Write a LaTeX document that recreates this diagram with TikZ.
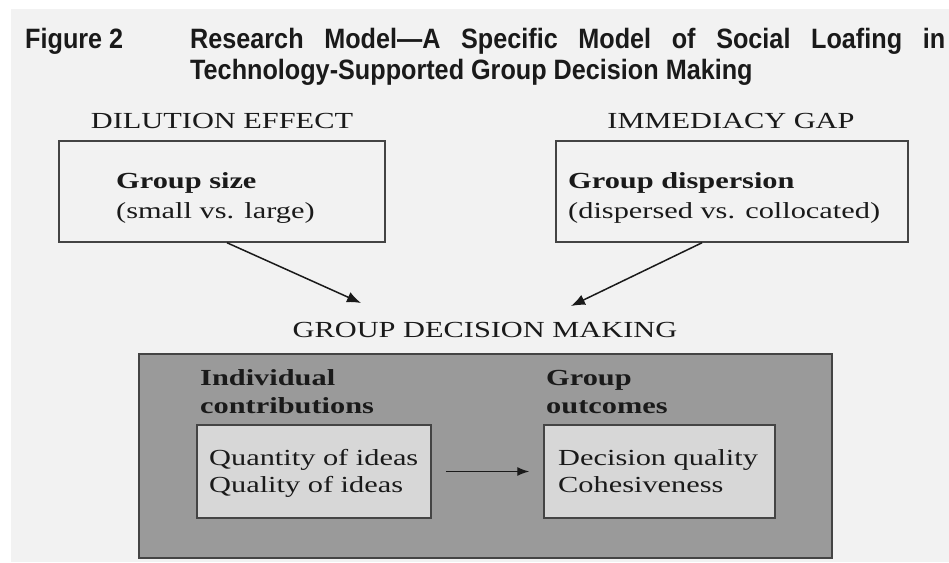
\documentclass[tikz,border=0pt]{standalone}
\usepackage{fontspec}
\usetikzlibrary{arrows.meta}
\newfontfamily\titlefont[FakeStretch=0.9,Ligatures=TeX]{Liberation Sans}
\newfontfamily\capsfont[FakeStretch=1.32,Ligatures=TeX]{Liberation Serif}
\definecolor{pagebg}{HTML}{F2F2F2}
\definecolor{darkfill}{HTML}{9A9A9A}
\definecolor{lightfill}{HTML}{D7D7D7}
\definecolor{inkc}{HTML}{1A1A1A}
\definecolor{edgec}{HTML}{444444}
\tikzset{
  ttl/.style={font=\titlefont\bfseries\fontsize{28}{32}\selectfont, text=inkc, inner sep=0pt, anchor=base west},
  lbl/.style={font=\capsfont\fontsize{23}{28}\selectfont, text=inkc, inner sep=0pt},
  blbl/.style={font=\capsfont\bfseries\fontsize{23}{28}\selectfont, text=inkc, inner sep=0pt, anchor=base west},
  plainbox/.style={draw=edgec, line width=1.5pt, rectangle, inner sep=0pt},
  arr/.style={draw=inkc, line width=1.5pt, -{Latex[length=14pt,width=11pt]}}
}
\begin{document}
\begin{tikzpicture}[x=1pt,y=-1pt]
\useasboundingbox (0,0) rectangle (949,562);
\fill[white] (0,0) rectangle (949,562);
\fill[pagebg] (11,9) rectangle (949,562);

% title
\node[ttl] (fig) at (25,48) {Figure 2};
\node[ttl] (tl1) at (190,48) {\makebox[755pt][s]{Research Model—A Specific Model of Social Loafing in}};
\node[ttl] (tl2) at (190,79) {Technology-Supported Group Decision Making};

% upper labels
\node[lbl, anchor=base] (dil) at (222,128) {DILUTION EFFECT};
\node[lbl, anchor=base] (imm) at (731,128) {IMMEDIACY GAP};

% upper boxes
\node[plainbox, fill=pagebg, minimum width=326pt, minimum height=101pt] (gsbox) at (222,191.5) {};
\node[plainbox, fill=pagebg, minimum width=352pt, minimum height=101pt] (gdbox) at (732,191.5) {};
\node[blbl] (gs1) at (116,188) {Group size};
\node[lbl, anchor=base west] (gs2) at (116,218) {(small vs. large)};
\node[blbl] (gd1) at (568,188) {Group dispersion};
\node[lbl, anchor=base west] (gd2) at (568,218) {(dispersed vs. collocated)};

% arrows to group decision making
\coordinate (t1) at (361,303);
\coordinate (t2) at (571,306);
\draw[arr] ([xshift=5pt]gsbox.south) -- (t1);
\draw[arr] ([xshift=-30pt]gdbox.south) -- (t2);

\node[lbl, anchor=base] (gdm) at (485,337) {GROUP DECISION MAKING};

% big box
\node[draw=edgec, line width=1.8pt, fill=darkfill, rectangle, inner sep=0pt, minimum width=693pt, minimum height=204pt] (big) at (485.5,456) {};
\node[blbl] (ic1) at (200,385) {Individual};
\node[blbl] (ic2) at (200,413) {contributions};
\node[blbl] (go1) at (546,385) {Group};
\node[blbl] (go2) at (546,413) {outcomes};

% inner boxes
\node[plainbox, fill=lightfill, minimum width=234pt, minimum height=93pt] (ileft) at (314,471.5) {};
\node[plainbox, fill=lightfill, minimum width=231pt, minimum height=93pt] (iright) at (659.5,471.5) {};
\node[lbl, anchor=base west] (q1) at (209,465) {Quantity of ideas};
\node[lbl, anchor=base west] (q2) at (209,492) {Quality of ideas};
\node[lbl, anchor=base west] (d1) at (558,465) {Decision quality};
\node[lbl, anchor=base west] (d2) at (558,492) {Cohesiveness};

\draw[arr, line width=1.4pt, -{Latex[length=12pt,width=9pt]}] ([xshift=14pt]ileft.east) -- ([xshift=-14pt]iright.west);
\end{tikzpicture}
\end{document}
